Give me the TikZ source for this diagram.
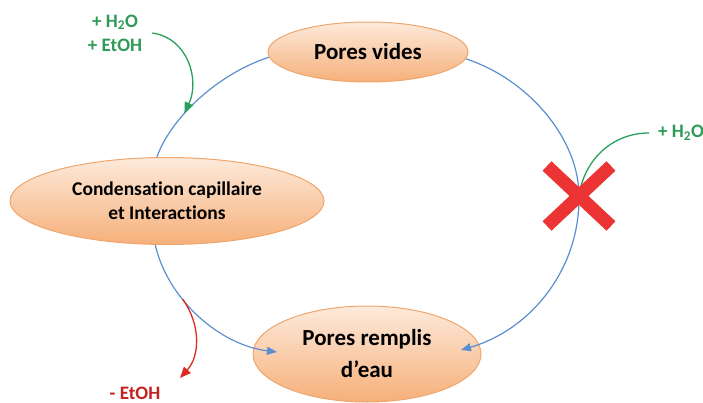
\documentclass[tikz,border=0pt]{standalone}
\usepackage{fontspec}
\setmainfont{Carlito}[Ligatures=NoCommon]
\usetikzlibrary{arrows.meta,shapes.geometric,shapes.misc}
\definecolor{cblue}{HTML}{5A8ED0}
\definecolor{cgreen}{HTML}{27A05C}
\definecolor{cgtext}{HTML}{2E9A57}
\definecolor{cred}{HTML}{DC2A22}
\definecolor{crtext}{HTML}{C4201F}
\definecolor{xred}{HTML}{EC3434}
\definecolor{obord}{HTML}{EFA66C}
\definecolor{otop}{HTML}{FDEADB}
\definecolor{obot}{HTML}{F6B07A}
\begin{document}
\begin{tikzpicture}[x=1pt,y=-1pt,
  oval/.style={ellipse, draw=obord, line width=1pt, top color=otop, bottom color=obot,
    inner sep=0pt, align=center},
  flow/.style={cblue, line width=1.2pt},
  tip/.style={-{Triangle[length=10pt,width=8pt]}},
  gtext/.style={text=cgtext, font=\bfseries\fontsize{19}{24}\selectfont, inner sep=0pt, align=center},
  rtext/.style={text=crtext, font=\bfseries\fontsize{19}{24}\selectfont, inner sep=0pt},
  gline/.style={cgreen, line width=1.3pt},
  rline/.style={cred, line width=1.3pt},
  crossmark/.style={cross out, draw=xred, line width=13pt, minimum width=64pt,
    minimum height=60pt, inner sep=0pt, outer sep=0pt}]
\useasboundingbox (0,0) rectangle (703,403);
% nodes
\node[oval, minimum width=200pt, minimum height=60pt,
  font=\bfseries\fontsize{23}{27}\selectfont] (pv) at (368,52) {Pores vides};
\node[oval, minimum width=314pt, minimum height=87pt,
  font=\bfseries\fontsize{19.5}{24}\selectfont] (cond) at (167,201)
  {Condensation capillaire\\et Interactions};
\node[oval, minimum width=228pt, minimum height=96pt,
  font=\bfseries\fontsize{23}{32}\selectfont] (pr) at (367,354)
  {Pores remplis\\d’eau};
\node[gtext] (g1) at (115,33) {+ H\textsubscript{2}O\\+ EtOH};
\node[gtext, anchor=west] (g2) at (658,133) {+ H\textsubscript{2}O};
\node[rtext] (r1) at (135,393) {- EtOH};
\coordinate (xc) at (579,196);
\coordinate (tipL) at (277,352);
\coordinate (tipR) at (461,350);
\coordinate (rtip) at (180,378);
% blue cycle
\draw[flow] (pv.183) .. controls (215,75) and (170,120) .. (cond.103)
  coordinate[pos=0.62] (gA);
\draw[flow, tip] (cond.255) .. controls (168,300) and (220,345) .. (tipL)
  coordinate[pos=0.36] (rA);
\draw[flow] (pv.356) .. controls (530,80) and (579,140) .. (xc);
\draw[flow, tip] (xc) .. controls (580,270) and (530,330) .. (tipR);
% side arrows
\draw[gline, -{Triangle[length=11pt,width=9pt]}] ([xshift=10pt]g1.east)
  .. controls (188,38) and (200,80) .. (gA);
\draw[gline] ([xshift=-9pt]g2.west) .. controls (612,133) and (584,160) .. (xc);
\draw[rline, -{Triangle[length=11pt,width=9pt]}] (rA)
  .. controls (201,325) and (200,356) .. (rtip);
% cross
\node[crossmark] (cross) at (xc) {};
\end{tikzpicture}
\end{document}
